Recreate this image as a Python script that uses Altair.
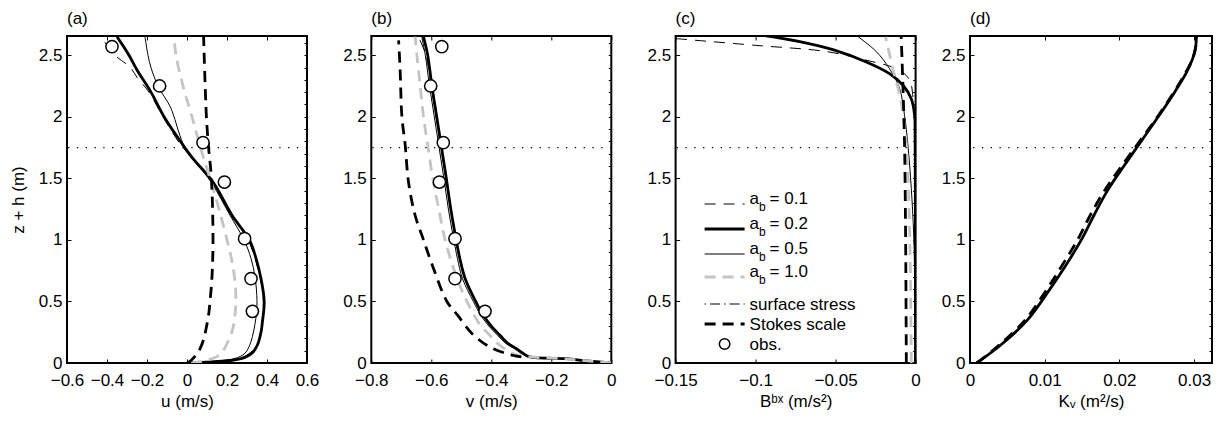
import altair as alt
import pandas as pd

FONT = "Liberation Sans"
FS = 17

# ---------------- data ----------------
Y_MAX = 2.656
Y_TICKS = [0, 0.5, 1, 1.5, 2, 2.5]
Y_MINOR = [round(0.1 * k, 1) for k in range(27)]
MLD = [1.75]  # dotted reference depth

Z_OBS = [2.57, 2.25, 1.79, 1.47, 1.01, 0.685, 0.42]
U_OBS = [-0.375, -0.137, 0.08, 0.187, 0.288, 0.32, 0.327]
V_OBS = [-0.565, -0.602, -0.56, -0.573, -0.521, -0.521, -0.421]

# panel (a): u
U_AB01_Z = [0, 0.035, 0.146, 0.333, 0.5, 0.7, 1.0, 1.2, 1.5, 1.77, 2.0, 2.2, 2.32, 2.4, 2.5, 2.65]
U_AB01 = [0.0, 0.265, 0.35, 0.375, 0.382, 0.365, 0.305, 0.22, 0.115, -0.03, -0.12, -0.19, -0.25, -0.283, -0.36, -0.43]
U_AB02_Z = [0, 0.035, 0.08, 0.146, 0.25, 0.333, 0.5, 0.685, 0.85, 1.0, 1.2, 1.47, 1.66, 1.77, 2.0, 2.2, 2.38, 2.5, 2.65]
U_AB02 = [0.0, 0.27, 0.325, 0.352, 0.37, 0.377, 0.386, 0.37, 0.345, 0.312, 0.225, 0.13, 0.03, -0.02, -0.115, -0.18, -0.25, -0.29, -0.35]
U_AB05_Z = [0, 0.035, 0.08, 0.17, 0.36, 0.5, 0.7, 0.85, 1.0, 1.2, 1.47, 1.75, 2.0, 2.08, 2.25, 2.4, 2.5, 2.65]
U_AB05 = [0.0, 0.235, 0.29, 0.319, 0.344, 0.35, 0.34, 0.32, 0.285, 0.215, 0.12, -0.01, -0.065, -0.083, -0.145, -0.18, -0.195, -0.21]
U_AB10_Z = [0, 0.057, 0.19, 0.3, 0.45, 0.6, 0.8, 1.0, 1.25, 1.5, 1.75, 2.0, 2.25, 2.5, 2.65]
U_AB10 = [0.02, 0.155, 0.21, 0.232, 0.243, 0.243, 0.228, 0.2, 0.16, 0.115, 0.067, 0.025, -0.02, -0.055, -0.065]
U_STK_Z = [0, 0.02, 0.1, 0.19, 0.3, 0.39, 0.5, 0.7, 1.0, 1.5, 1.75, 2.0, 2.65]
U_STK = [0.0, 0.02, 0.06, 0.083, 0.098, 0.108, 0.115, 0.125, 0.13, 0.122, 0.108, 0.097, 0.083]

# panel (b): v
V_AB01_Z = [0, 0.02, 0.035, 0.049, 0.116, 0.225, 0.387, 0.685, 1.0, 1.5, 2.0, 2.25, 2.5, 2.65]
V_AB01 = [0.0, -0.09, -0.15, -0.272, -0.316, -0.371, -0.427, -0.488, -0.518, -0.551, -0.584, -0.6, -0.618, -0.643]
V_AB02_Z = [0, 0.02, 0.035, 0.049, 0.08, 0.116, 0.16, 0.225, 0.3, 0.387, 0.5, 0.685, 0.85, 1.0, 1.25, 1.5, 1.75, 2.0, 2.25, 2.5, 2.65]
V_AB02 = [0.0, -0.09, -0.15, -0.272, -0.295, -0.316, -0.345, -0.371, -0.40, -0.427, -0.452, -0.487, -0.505, -0.517, -0.535, -0.55, -0.566, -0.582, -0.598, -0.612, -0.626]
V_AB05_Z = V_AB02_Z
V_AB05 = [0.0, -0.09, -0.155, -0.275, -0.30, -0.322, -0.352, -0.379, -0.408, -0.435, -0.46, -0.496, -0.513, -0.525, -0.543, -0.558, -0.574, -0.59, -0.606, -0.62, -0.632]
V_AB10_Z = [0, 0.02, 0.035, 0.049, 0.062, 0.089, 0.15, 0.225, 0.32, 0.47, 0.6, 0.77, 1.0, 1.25, 1.47, 1.77, 2.0, 2.25, 2.5, 2.65]
V_AB10 = [0.0, -0.09, -0.16, -0.272, -0.31, -0.338, -0.375, -0.405, -0.44, -0.475, -0.50, -0.526, -0.554, -0.575, -0.593, -0.612, -0.626, -0.637, -0.648, -0.654]
V_STK_Z = [0.05, 0.063, 0.13, 0.236, 0.39, 0.5, 0.77, 1.0, 1.2, 1.47, 1.77, 2.0, 2.39, 2.62]
V_STK = [-0.30, -0.33, -0.405, -0.463, -0.513, -0.548, -0.593, -0.626, -0.654, -0.676, -0.687, -0.698, -0.704, -0.709]

# panel (c): B^bx
B_AB01_Z = [0, 1.0, 1.8, 2.0, 2.1, 2.2, 2.26, 2.32, 2.39, 2.46, 2.53, 2.58, 2.635]
B_AB01 = [-0.0003, -0.0004, -0.0006, -0.0009, -0.0013, -0.002, -0.0027, -0.0048, -0.012, -0.031, -0.056, -0.10, -0.15]
B_AB02_Z = [0, 1.0, 1.8, 2.01, 2.147, 2.256, 2.35, 2.445, 2.545, 2.61, 2.662]
B_AB02 = [0.0, -0.0001, -0.0003, -0.0006, -0.0027, -0.0079, -0.0163, -0.0308, -0.0517, -0.0725, -0.0954]
B_AB05_Z = [0, 0.5, 1.04, 1.42, 1.77, 2.01, 2.23, 2.39, 2.53, 2.66]
B_AB05 = [-0.0002, -0.0004, -0.0012, -0.0027, -0.0048, -0.0069, -0.01, -0.0163, -0.0246, -0.037]
B_AB10_Z = [0, 0.77, 1.31, 1.77, 2.12, 2.39, 2.65]
B_AB10 = [-0.0027, -0.0033, -0.0042, -0.0058, -0.009, -0.0142, -0.0188]
B_STK_Z = [0, 1.77, 2.65]
B_STK = [-0.0058, -0.0069, -0.009]

# panel (d): Kv
K_AB02_Z = [0, 0.15, 0.35, 0.6, 0.8, 1.0, 1.2, 1.4, 1.6, 1.8, 2.0, 2.2, 2.35, 2.47, 2.56, 2.66]
K_AB02 = [0.0009, 0.0042, 0.0077, 0.0107, 0.0129, 0.0149, 0.0166, 0.0184, 0.0206, 0.0229, 0.0252, 0.0274, 0.0289, 0.0298, 0.0302, 0.0303]
K_STK_Z = K_AB02_Z
K_STK = [0.0009, 0.0040, 0.0074, 0.0103, 0.0124, 0.0144, 0.0161, 0.0180, 0.0203, 0.0227, 0.0251, 0.0273, 0.0288, 0.0298, 0.0302, 0.0303]

LEG_KEYS = ["ab01", "ab02", "ab05", "ab10", "surf", "stokes", "obs"]
LEG_AB = ["0.1", "0.2", "0.5", "1.0"]
LEG_TXT = ["surface stress", "Stokes scale", "obs."]

# ---------------- styles ----------------
STYLE = {
    "ab01": dict(color="black", strokeWidth=1.0, strokeDash=[11, 8]),
    "ab02": dict(color="black", strokeWidth=2.8),
    "ab05": dict(color="black", strokeWidth=1.0),
    "ab10": dict(color="#c4c4c4", strokeWidth=2.8, strokeDash=[11, 7]),
    "surf": dict(color="black", strokeWidth=1.0, strokeDash=[1.5, 4, 10, 4]),
    "stokes": dict(color="black", strokeWidth=2.8, strokeDash=[11, 7]),
}
TICK = 4
W, H = 240, 327
LABEL_EXPR = "format(datum.value, '~g')"


def curve_df(zs, xs):
    return pd.DataFrame({"z": zs, "x": xs, "i": list(range(len(zs)))})


def panel(letter, curves, obs, xdom, xticks, xtitle, ytitle, legend=False, width=W):
    xs = alt.Scale(domain=xdom, nice=False, zero=False)
    ys = alt.Scale(domain=[0, Y_MAX], nice=False, zero=False)
    layers = []
    for k, (key, zs, vals) in enumerate(curves):
        if k == 0:
            xa = alt.Axis(orient="bottom", values=xticks, labelExpr=LABEL_EXPR, offset=-TICK, tickSize=TICK,
                          domain=False, grid=False, labelPadding=9, labelFlush=False,
                          labelOverlap=False, title=xtitle, titlePadding=5)
            yargs = dict(orient="left", values=Y_TICKS, labelExpr=LABEL_EXPR, offset=-TICK, tickSize=TICK,
                         domain=False, grid=False, labelPadding=5, labelOverlap=False)
            if ytitle:
                ya = alt.Axis(title=ytitle, titlePadding=11, **yargs)
            else:
                ya = alt.Axis(title=None, **yargs)
        elif k == 1:
            xa = alt.Axis(orient="top", values=xticks, offset=-TICK, tickSize=TICK, domain=False,
                          grid=False, labels=False, title=None)
            ya = alt.Axis(orient="right", values=Y_MINOR, offset=-3, tickSize=3, domain=False,
                          grid=False, labels=False, title=None)
        else:
            xa = None
            ya = None
        layers.append(
            alt.Chart(curve_df(zs, vals)).mark_line(clip=True, strokeCap="butt", interpolate="catmull-rom",
                                                    **STYLE[key]).encode(
                x=alt.X("x:Q", scale=xs, axis=xa),
                y=alt.Y("z:Q", scale=ys, axis=ya),
                order=alt.Order("i:Q"),
            )
        )
    layers.append(
        alt.Chart(pd.DataFrame({"z": MLD})).mark_rule(color="black", strokeWidth=1.3, strokeDash=[1.3, 7.5]).encode(
            y=alt.Y("z:Q", scale=ys, axis=None)
        )
    )
    if obs is not None:
        layers.append(
            alt.Chart(pd.DataFrame({"z": Z_OBS, "x": obs})).mark_point(
                shape="circle", filled=True, fill="white", stroke="black", strokeWidth=1.5, size=150, opacity=1
            ).encode(x=alt.X("x:Q", scale=xs, axis=None), y=alt.Y("z:Q", scale=ys, axis=None))
        )
    if legend:
        one = pd.DataFrame({"d": [0]})
        x0, x1, xt = 29, 69, 74
        rows_y = [168, 193, 218, 241, 268, 288, 308]
        txt = dict(align="left", font=FONT, fill="black", color="black")
        for j, key in enumerate(LEG_KEYS):
            y = rows_y[j]
            if key == "obs":
                layers.append(alt.Chart(one).mark_point(shape="circle", filled=True, fill="white", stroke="black",
                                                        strokeWidth=1.5, size=110, opacity=1).encode(
                    x=alt.value(49), y=alt.value(y)))
            else:
                st = dict(STYLE[key])
                layers.append(alt.Chart(one).mark_rule(strokeCap="butt", **st).encode(
                    x=alt.value(x0), x2=alt.value(x1), y=alt.value(y)))
            if j < 4:
                layers.append(alt.Chart(one).mark_text(baseline="alphabetic", fontSize=FS, **txt).encode(
                    x=alt.value(xt), y=alt.value(y), text=alt.value("a")))
                layers.append(alt.Chart(one).mark_text(baseline="alphabetic", fontSize=12, **txt).encode(
                    x=alt.value(xt + 9.5), y=alt.value(y + 7), text=alt.value("b")))
                layers.append(alt.Chart(one).mark_text(baseline="alphabetic", fontSize=FS, **txt).encode(
                    x=alt.value(xt + 20), y=alt.value(y), text=alt.value("= " + LEG_AB[j])))
            else:
                layers.append(alt.Chart(one).mark_text(baseline="middle", fontSize=FS, **txt).encode(
                    x=alt.value(xt), y=alt.value(y + 1), text=alt.value(LEG_TXT[j - 4])))
    return alt.layer(*layers).resolve_axis(x="independent", y="independent").properties(
        width=width, height=H,
        title=alt.TitleParams(letter, anchor="start", frame="group", fontSize=FS, fontWeight="normal",
                              font=FONT, offset=8, color="black"),
    )


pa = panel("(a)", [("ab01", U_AB01_Z, U_AB01), ("ab02", U_AB02_Z, U_AB02), ("ab05", U_AB05_Z, U_AB05),
                   ("ab10", U_AB10_Z, U_AB10), ("stokes", U_STK_Z, U_STK)],
           U_OBS, [-0.6, 0.6], [-0.6, -0.4, -0.2, 0, 0.2, 0.4, 0.6], "u (m/s)", "z + h (m)")
pb = panel("(b)", [("ab01", V_AB01_Z, V_AB01), ("ab02", V_AB02_Z, V_AB02), ("ab05", V_AB05_Z, V_AB05),
                   ("ab10", V_AB10_Z, V_AB10), ("stokes", V_STK_Z, V_STK)],
           V_OBS, [-0.8, 0], [-0.8, -0.6, -0.4, -0.2, 0], "v (m/s)", None)
pc = panel("(c)", [("ab01", B_AB01_Z, B_AB01), ("ab02", B_AB02_Z, B_AB02), ("ab05", B_AB05_Z, B_AB05),
                   ("ab10", B_AB10_Z, B_AB10), ("stokes", B_STK_Z, B_STK)],
           None, [-0.15, 0], [-0.15, -0.1, -0.05, 0], "B\u1d47\u02e3 (m/s\u00b2)", None, legend=True)
pdd = panel("(d)", [("stokes", K_STK_Z, K_STK), ("ab02", K_AB02_Z, K_AB02)],
            None, [0, 0.0324], [0, 0.01, 0.02, 0.03], "K\u1d65 (m\u00b2/s)", None, width=242)

left3 = alt.hconcat(pa, pb, pc, spacing=64.3, bounds="flush")
chart = alt.hconcat(left3, pdd, spacing=18, bounds="full").properties(
    padding={"left": 0, "top": 0, "right": 0, "bottom": 0}
).configure_view(stroke="black", strokeWidth=2).configure_axis(
    labelFont=FONT, labelFontSize=FS, labelColor="black", titleFont=FONT, titleFontSize=FS,
    titleFontWeight="normal", titleColor="black", tickColor="black", tickWidth=1
)

chart.save("out.html", embed_options={"renderer": "svg", "actions": False})
